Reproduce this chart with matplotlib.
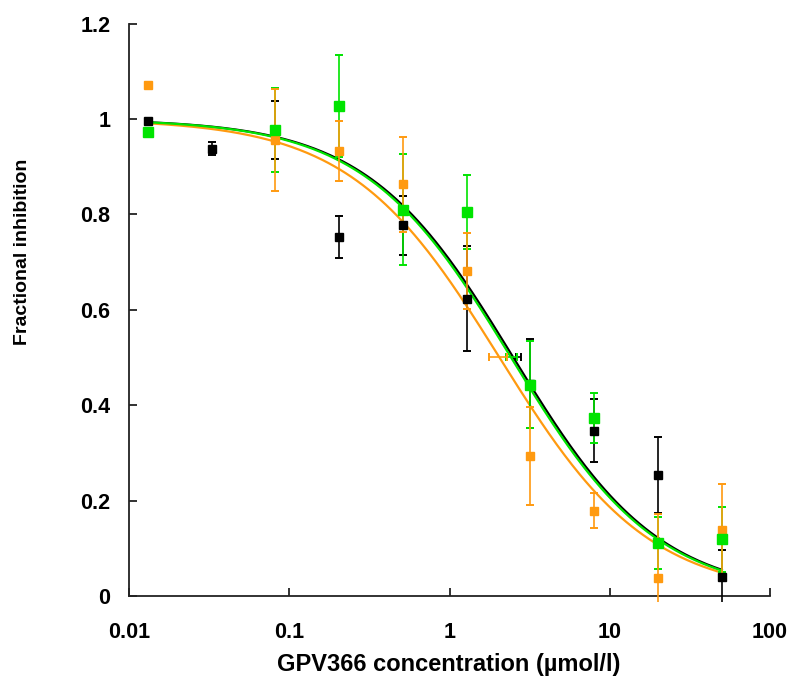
import numpy as np
import matplotlib
matplotlib.use("Agg")
import matplotlib.pyplot as plt

plt.rcParams['font.family'] = ['Liberation Sans', 'DejaVu Sans']

# concentrations (umol/l), 2.5-fold dilution series
conc = [0.0131, 0.0328, 0.082, 0.205, 0.512, 1.28, 3.2, 8, 20, 50]

black_y = [0.995, 0.938, 0.977, 0.752, 0.777, 0.623, 0.445, 0.346, 0.254, 0.040]
black_err = [0, 0.014, 0.061, 0.044, 0.062, 0.110, 0.093, 0.066, 0.080, 0.057]

green_x = [0.0131, 0.082, 0.205, 0.512, 1.28, 3.2, 8, 20, 50]
green_y = [0.972, 0.977, 1.028, 0.810, 0.805, 0.443, 0.373, 0.111, 0.119]
green_err = [0, 0.088, 0.107, 0.116, 0.077, 0.091, 0.052, 0.055, 0.068]

orange_x = [0.0131, 0.082, 0.205, 0.512, 1.28, 3.2, 8, 20, 50]
orange_y = [1.071, 0.955, 0.933, 0.863, 0.681, 0.294, 0.179, 0.037, 0.138]
orange_err = [0, 0.107, 0.063, 0.100, 0.080, 0.103, 0.037, 0.135, 0.096]

# fitted IC50 with its error, drawn at 50% inhibition
ic50 = [2.70, 2.44, 2.03]
ic50_err = [0.085, 0.20, 0.26]

# Hill fit parameters (IC50, slope)
fit_ic50 = [2.50, 2.42, 2.05]
fit_slope = [0.95, 0.95, 0.93]

colors = ['black', '#00e400', '#ff9a10']

xticks = [0.01, 0.1, 1, 10, 100]
xticklabels = ['0.01', '0.1', '1', '10', '100']
yticks = [0, 0.2, 0.4, 0.6, 0.8, 1.0, 1.2]
yticklabels = ['0', '0.2', '0.4', '0.6', '0.8', '1', '1.2']

fig = plt.figure(figsize=(8, 6.96), dpi=100)
ax = fig.add_axes([0.16125, 0.1355, 0.80125, 0.8306])

# fitted curves
xs = np.logspace(np.log10(conc[0]), np.log10(conc[-1]), 300)
for c, ic, h, z in zip(colors, fit_ic50, fit_slope, [2, 3, 2.5]):
    ax.plot(xs, 1 / (1 + (xs / ic) ** h), color=c, lw=1.6, zorder=z)

series = [(conc, black_y, black_err), (green_x, green_y, green_err),
          (orange_x, orange_y, orange_err)]
msizes = [6, 7.2, 6]
for (x, y, e), c in zip(series, colors):
    ax.errorbar(x, y, yerr=e, fmt='none', ecolor=c, elinewidth=1.2,
                capsize=3, capthick=1.4, zorder=4)

for i, c in enumerate(colors):
    ax.errorbar([ic50[i]], [0.5], xerr=[ic50_err[i]], fmt='none', ecolor=c,
                elinewidth=1.2, capsize=3, capthick=1.4, zorder=4)

for (x, y, e), c, ms, z in zip(series, colors, msizes, [5, 7, 6]):
    ax.plot(x, y, 's', color=c, ms=ms, mec=c, zorder=z)

ax.set_xscale('log')
ax.set_xlim(0.01, 100)
ax.set_ylim(-0.012, 1.2)
ax.set_xticks(xticks)
ax.set_xticklabels(xticklabels)
ax.xaxis.set_minor_locator(matplotlib.ticker.NullLocator())
ax.set_yticks(yticks)
ax.set_yticklabels(yticklabels)

for s in ['top', 'right']:
    ax.spines[s].set_visible(False)
ax.spines['bottom'].set_position(('data', 0))
ax.spines['left'].set_bounds(0, 1.2)
for s in ['bottom', 'left']:
    ax.spines[s].set_linewidth(1.3)
    ax.spines[s].set_color('#222222')

ax.tick_params(axis='both', direction='in', length=6, width=1.3, color='#222222',
               labelsize=15.5)
ax.tick_params(axis='x', pad=19)
ax.tick_params(axis='y', pad=13.5)
for lab in ax.get_xticklabels() + ax.get_yticklabels():
    lab.set_fontweight('bold')

fig.text(449 / 800, 1 - 664 / 696, 'GPV366 concentration (µmol/l)', ha='center',
         va='center', fontsize=17, fontweight='bold')
fig.text(23 / 800, 1 - 252 / 696, 'Fractional inhibition', ha='center',
         va='center', rotation=90, fontsize=14, fontweight='bold')

fig.savefig('out.png', dpi=100)
